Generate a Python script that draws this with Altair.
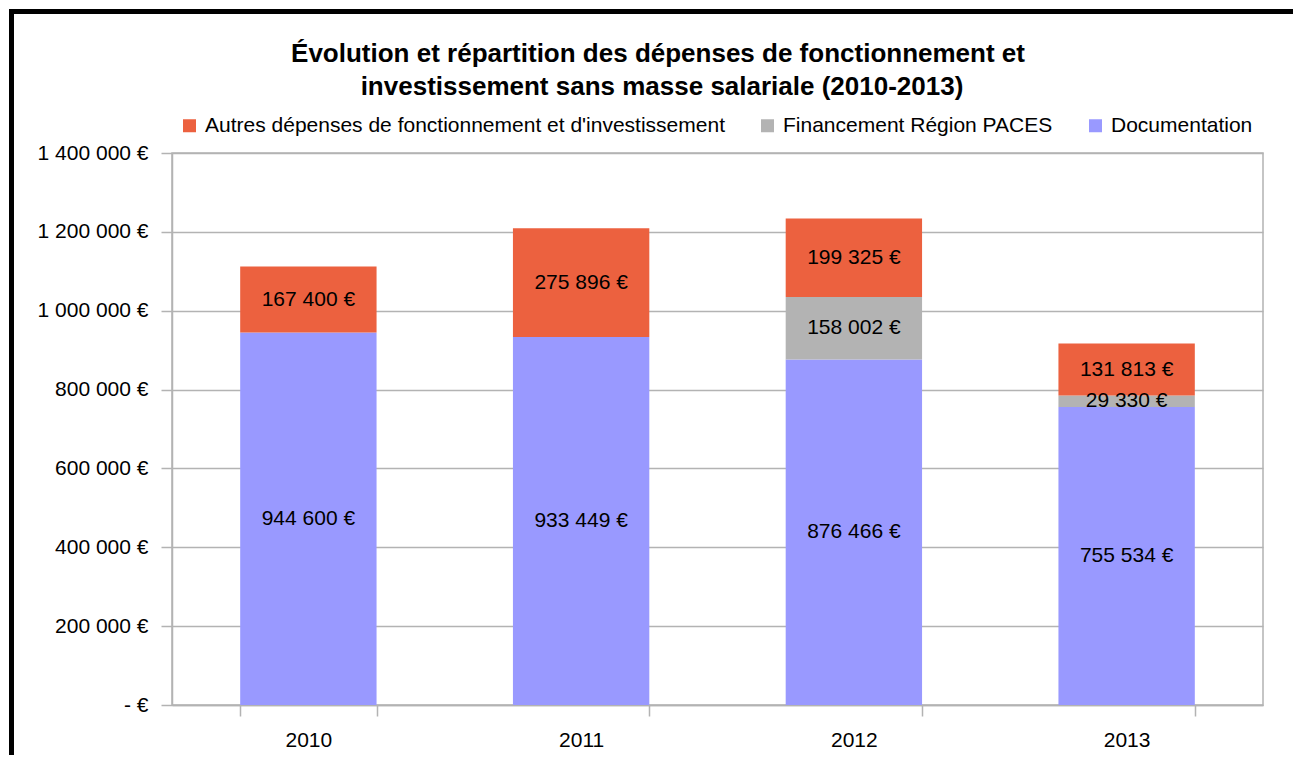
import altair as alt
import pandas as pd

years = ["2010", "2011", "2012", "2013"]
series = [
    "Autres dépenses de fonctionnement et d'investissement",
    "Financement Région PACES",
    "Documentation",
]
documentation = [944600, 933449, 876466, 755534]
financement = [0, 0, 158002, 29330]
autres = [167400, 275896, 199325, 131813]
colors = ["#EC613F", "#B3B3B3", "#9999FF"]
y_ticks = [0, 200000, 400000, 600000, 800000, 1000000, 1200000, 1400000]
title_lines = [
    "Évolution et répartition des dépenses de fonctionnement et",
    "investissement sans masse salariale (2010-2013)",
]

rows = []
for i, yr in enumerate(years):
    for name, vals, order in [
        (series[2], documentation, 0),
        (series[1], financement, 1),
        (series[0], autres, 2),
    ]:
        v = vals[i]
        rows.append({
            "year": yr,
            "serie": name,
            "ord": order,
            "v": v,
            "label": f"{v:,}".replace(",", " ") + " €",
        })
df = pd.DataFrame(rows)

FONT = "Liberation Sans"
GRID = "#b3b3b3"
W, H = 1091, 552
PAD = {"left": 164, "top": 145, "right": 30, "bottom": 50}

base = (
    alt.Chart(df)
    .transform_stack(
        stack="v",
        groupby=["year"],
        sort=[alt.SortField("ord", order="ascending")],
        as_=["y0", "y1"],
    )
    .transform_calculate(mid="(datum.y0 + datum.y1) / 2")
)

x_enc = alt.X(
    "year:N",
    scale=alt.Scale(paddingInner=0.5, paddingOuter=0.25),
    axis=alt.Axis(
        title=None,
        labelAngle=0,
        tickBand="extent",
        ticks=True,
        tickSize=11,
        labelPadding=13,
        domainColor=GRID,
        tickColor=GRID,
        tickWidth=1.5,
        domainWidth=1.5,
    ),
)

y_scale = alt.Scale(domain=[0, 1400000], nice=False)

bars = base.mark_bar().encode(
    x=x_enc,
    y=alt.Y(
        "y0:Q",
        scale=y_scale,
        axis=alt.Axis(
            title=None,
            values=y_ticks,
            grid=True,
            gridColor=GRID,
            gridWidth=1.5,
            domainColor=GRID,
            domainWidth=1.5,
            tickColor=GRID,
            tickWidth=1.5,
            tickSize=11,
            labelPadding=13,
            labelExpr="datum.value == 0 ? '- €' : replace(replace(format(datum.value, ',d'), ',', ' '), ',', ' ') + ' €'",
        ),
    ),
    y2="y1:Q",
    color=alt.Color(
        "serie:N",
        sort=series,
        scale=alt.Scale(domain=series, range=colors),
        legend=alt.Legend(
            title=None,
            orient="none",
            direction="horizontal",
            legendX=7,
            legendY=-38,
            symbolType="square",
            symbolSize=169,
            symbolStrokeWidth=0,
            symbolOpacity=1,
            labelFont=FONT,
            labelFontSize=21,
            labelColor="black",
            labelOffset=5,
            columnPadding=32,
            labelLimit=800,
        ),
    ),
    order=alt.Order("ord:Q"),
)

texts = base.transform_filter("datum.v > 0").mark_text(
    font=FONT, fontSize=21, color="black", baseline="middle", align="center"
).encode(
    x=alt.X("year:N"),
    y=alt.Y("mid:Q", scale=y_scale),
    text="label:N",
)

frame_top = alt.Chart(alt.Data(values=[{"edge": "top"}])).mark_rect(
    color="black", clip=False
).encode(
    x=alt.value(-163),
    x2=alt.value(W + PAD["right"]),
    y=alt.value(-144),
    y2=alt.value(-139),
)
frame_left = alt.Chart(alt.Data(values=[{"edge": "left"}])).mark_rect(
    color="black", clip=False
).encode(
    x=alt.value(-163),
    x2=alt.value(-158),
    y=alt.value(-144),
    y2=alt.value(H + PAD["bottom"]),
)

title1 = alt.Chart(alt.Data(values=[{"line": 1}])).mark_text(
    font=FONT, fontSize=26, fontWeight="bold", color="black",
    align="center", baseline="alphabetic", clip=False,
).encode(
    x=alt.value(486), y=alt.value(-91), text=alt.value(title_lines[0])
)
title2 = alt.Chart(alt.Data(values=[{"line": 2}])).mark_text(
    font=FONT, fontSize=26, fontWeight="bold", color="black",
    align="center", baseline="alphabetic", clip=False,
).encode(
    x=alt.value(490), y=alt.value(-58), text=alt.value(title_lines[1])
)

chart = (
    alt.layer(frame_top, frame_left, title1, title2, bars, texts)
    .properties(
        width=W,
        height=H,
        autosize=alt.AutoSizeParams(type="none"),
        padding=PAD,
        background="white",
    )
    .configure_axis(
        labelFont=FONT,
        labelFontSize=21,
        labelColor="black",
    )
    .configure_view(stroke=GRID, strokeWidth=1.5)
)

chart.save("out.html", embed_options={"renderer": "svg", "actions": False})
